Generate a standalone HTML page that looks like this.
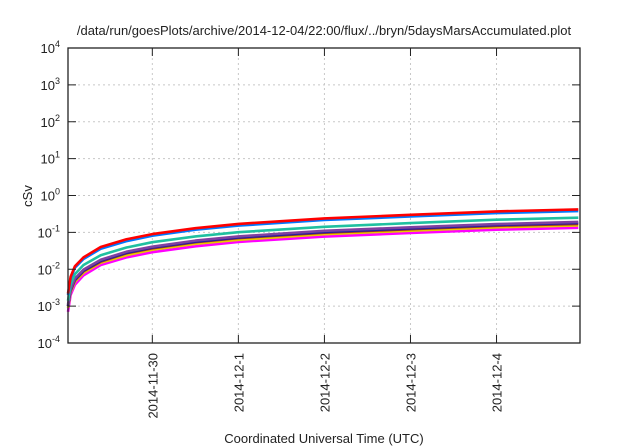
<!DOCTYPE html>
<html><head><meta charset="utf-8"><style>
body{margin:0;background:#fff;}
svg{display:block;font-family:"Liberation Sans",sans-serif;}
</style></head><body>
<svg id="chart" width="640" height="448" viewBox="0 0 640 448" xmlns="http://www.w3.org/2000/svg">
<text x="324" y="35" font-size="13" text-anchor="middle" fill="#222">/data/run/goesPlots/archive/2014-12-04/22:00/flux/../bryn/5daysMarsAccumulated.plot</text>
<text x="0" y="0" font-size="13" text-anchor="middle" fill="#222" transform="translate(32,196) rotate(-90)">cSv</text>
<text x="324" y="443" font-size="13" text-anchor="middle" fill="#222">Coordinated Universal Time (UTC)</text>
<g id="grid"></g>
<g id="series"></g>
<g id="axes"></g>
</svg>
<script>
const xTickLabels = ["2014-11-30","2014-12-1","2014-12-2","2014-12-3","2014-12-4"];
const xTickDays = [1,2,3,4,5];
const yTickExps = [-4,-3,-2,-1,0,1,2,3,4];
const times = [0.02,0.05,0.1,0.2,0.4,0.7,1,1.5,2,3,4,5,5.95];
const seriesColors = ["#ff00ff","#e8c800","#a03020","#2020a0","#8040a0","#20c0a0","#0078ff","#ff0000"];
const sRed     = [0.0022,0.0062,0.012,0.021,0.040,0.065,0.090,0.130,0.170,0.240,0.300,0.370,0.420];
const sBlue    = [0.0020,0.0056,0.011,0.019,0.036,0.058,0.081,0.118,0.153,0.216,0.270,0.333,0.378];
const sTeal    = [0.0014,0.0038,0.0074,0.013,0.024,0.039,0.054,0.078,0.101,0.142,0.178,0.220,0.250];
const sPurple  = [0.0011,0.0029,0.0056,0.0098,0.018,0.030,0.041,0.060,0.078,0.110,0.137,0.168,0.192];
const sNavy    = [0.0010,0.0027,0.0052,0.0092,0.017,0.028,0.039,0.056,0.073,0.103,0.128,0.158,0.180];
const sDarkRed = [0.0010,0.0026,0.0050,0.0088,0.016,0.027,0.037,0.054,0.070,0.098,0.122,0.151,0.170];
const sYellow  = [0.0009,0.0024,0.0046,0.0080,0.015,0.024,0.034,0.049,0.063,0.089,0.111,0.137,0.155];
const sMagenta = [0.0007,0.0020,0.0038,0.0068,0.013,0.021,0.029,0.042,0.055,0.077,0.096,0.118,0.133];
const seriesList = [sMagenta,sYellow,sDarkRed,sNavy,sPurple,sTeal,sBlue,sRed];

const L=68,R=580,T=48,B=343, dayMin=0.02, dayMax=5.97;
const NS="http://www.w3.org/2000/svg";
function xs(d){return L+(d-dayMin)/(dayMax-dayMin)*(R-L);}
function ys(v){return B-(Math.log10(v)+4)/8*(B-T);}
function mk(tag,attrs,parent){const e=document.createElementNS(NS,tag);for(const k in attrs)e.setAttribute(k,attrs[k]);parent.appendChild(e);return e;}
const grid=document.getElementById('grid'),axes=document.getElementById('axes'),ser=document.getElementById('series');
yTickExps.forEach((ex,i)=>{
  const y=ys(Math.pow(10,ex));
  if(ex>-4&&ex<4){const g=mk('line',{x1:L,x2:R,y1:y,y2:y,stroke:'#c8c8c8','stroke-dasharray':'2,3'},grid);
    
    }
  const t1=mk('line',{x1:L,x2:L+8,y1:y,y2:y,stroke:'#222'},axes);
  
  
  const t2=mk('line',{x1:R-8,x2:R,y1:y,y2:y,stroke:'#222'},axes);
  
  
  const tx=mk('text',{x:L-8,y:y+5,'font-size':'13','text-anchor':'end',fill:'#222'},axes);
  
  
  tx.textContent='10';
  const sup=mk('tspan',{dy:'-6','font-size':'9'},tx);sup.textContent=String(ex);
});
xTickDays.forEach((d,i)=>{
  const x=xs(d);
  const g=mk('line',{x1:x,x2:x,y1:T,y2:B,stroke:'#c8c8c8','stroke-dasharray':'2,3'},grid);
  
  
  const t1=mk('line',{x1:x,x2:x,y1:B-8,y2:B,stroke:'#222'},axes);
  
  
  const t2=mk('line',{x1:x,x2:x,y1:T,y2:T+8,stroke:'#222'},axes);
  
  
  const tx=mk('text',{x:0,y:0,'font-size':'13','text-anchor':'end',fill:'#222',transform:`translate(${x+5},${B+10}) rotate(-90)`},axes);
  
  
  tx.textContent=xTickLabels[i];
});
const fr=mk('rect',{x:L,y:T,width:R-L,height:B-T,fill:'none',stroke:'#222','stroke-width':'1.3'},axes);


seriesList.forEach((s,i)=>{
  const pts=s.map((v,j)=>xs(times[j]).toFixed(1)+','+ys(v).toFixed(1)).join(' ');
  const p=mk('polyline',{points:pts,fill:'none',stroke:seriesColors[i],'stroke-width':'2.6','stroke-linejoin':'round'},ser);
  
  
});
</script>
</body></html>
